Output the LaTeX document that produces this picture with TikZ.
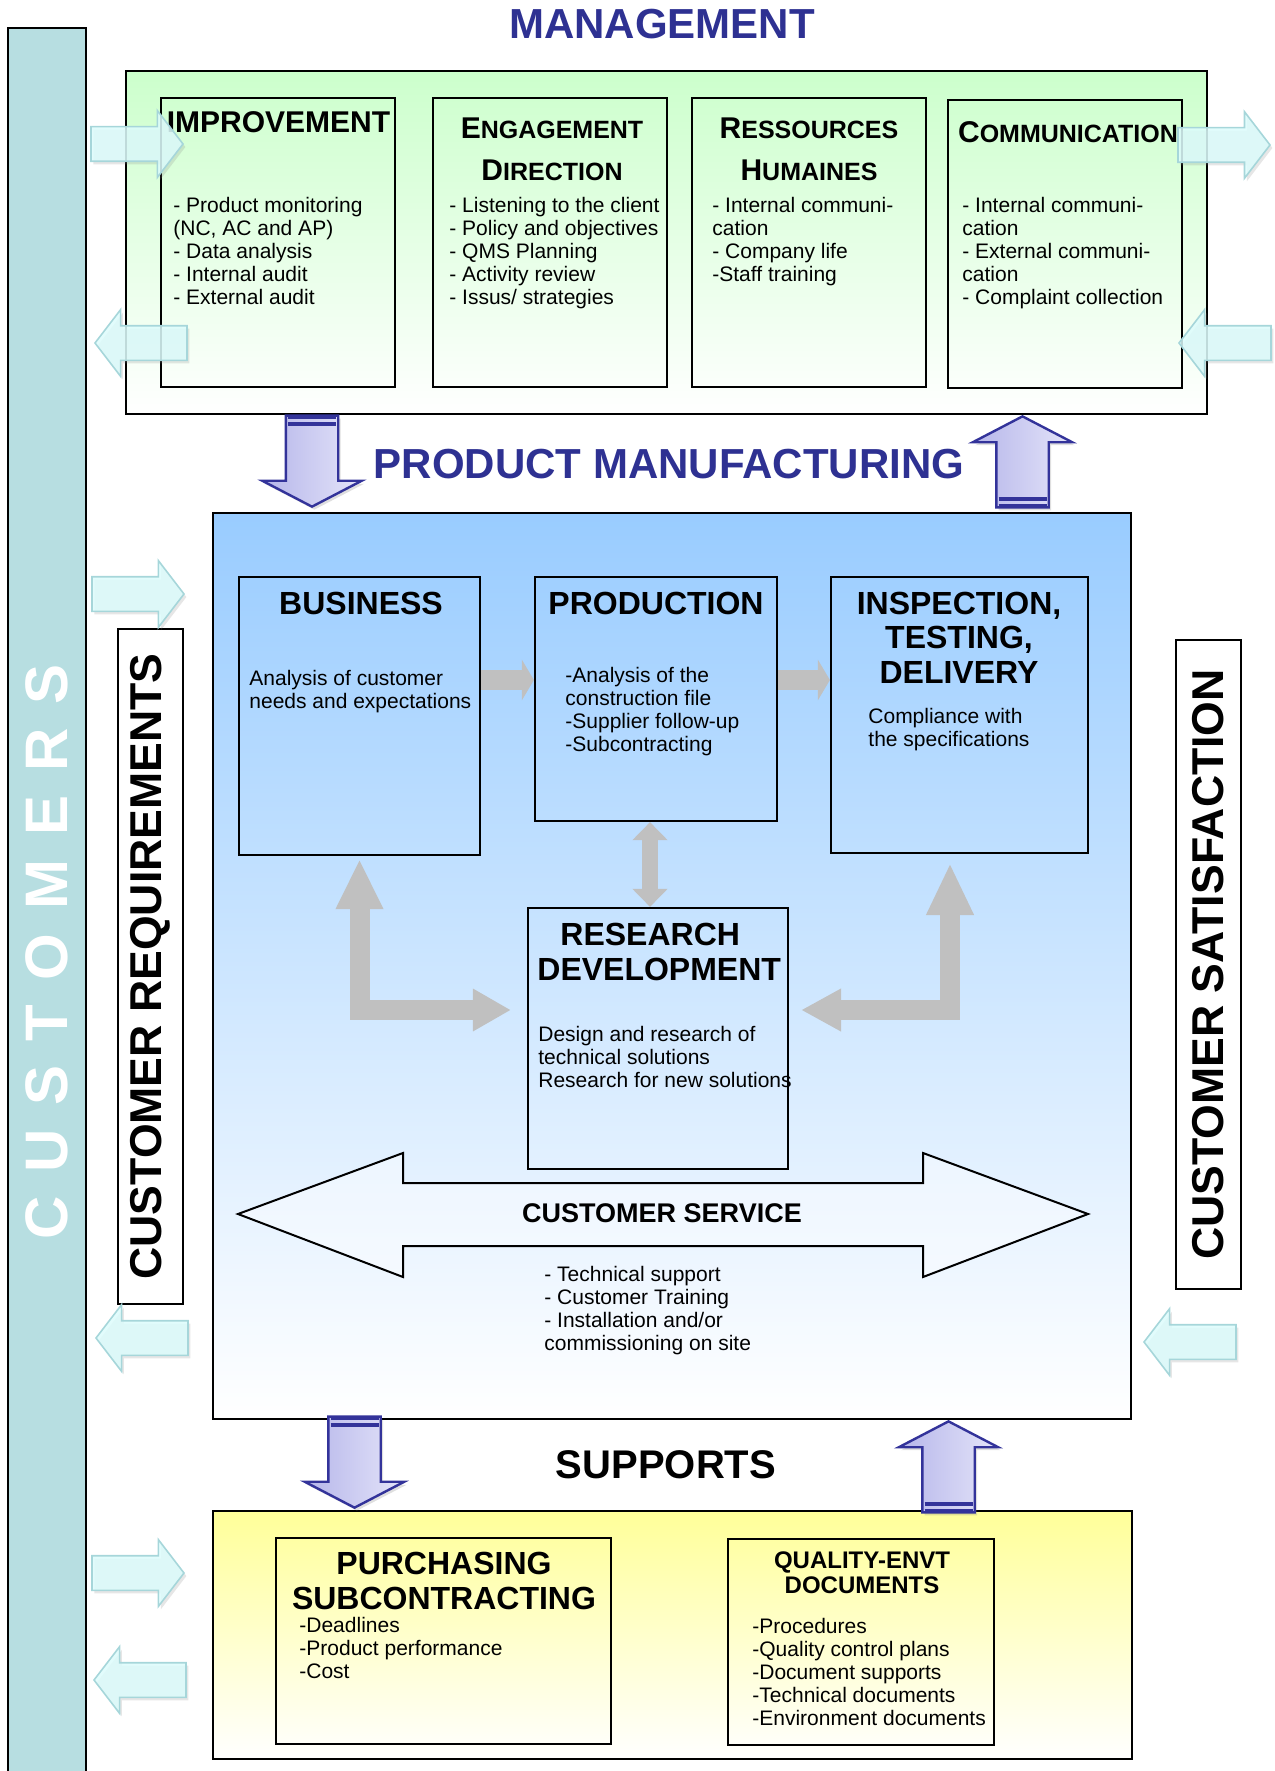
\documentclass[tikz,border=0pt]{standalone}
\usepackage{fontspec}
\setmainfont{Liberation Sans}
\usetikzlibrary{shapes.arrows,arrows.meta,shadows}

\definecolor{tituloazul}{HTML}{2E3192}
\definecolor{verdeclaro}{HTML}{CCFFCC}
\definecolor{azulclaro}{HTML}{99CCFF}
\definecolor{amarilloclaro}{HTML}{FFFF99}
\definecolor{barra}{HTML}{B7DEE1}
\definecolor{cian}{HTML}{DDFCFC}
\definecolor{cianborde}{HTML}{A6D6DA}
\definecolor{lila}{HTML}{B6B6EA}
\definecolor{lilaclaro}{HTML}{E4E4F9}
\definecolor{lilaborde}{HTML}{33339A}
\definecolor{gris}{HTML}{C0C0C0}

% versalitas falsas
\newcommand{\pc}[2]{{\fontsize{15}{21}\selectfont #1}{\fontsize{12.5}{21}\selectfont #2}}

\tikzset{
  caja/.style={draw, line width=1.1pt, inner sep=0pt},
  titulo/.style={font=\fontsize{16}{17.25}\selectfont\bfseries, align=center, inner sep=0pt},
  lista/.style={font=\fontsize{10.5}{11.5}\selectfont, align=left, anchor=north west, inner sep=0pt},
  flechacian/.style={single arrow, anchor=tip, fill=cian, draw=cianborde, line width=0.8pt, fill opacity=0.85,
    inner sep=8.25pt, single arrow head extend=8pt, single arrow tip angle=105, minimum height=46pt,
    drop shadow={shadow xshift=1.2pt, shadow yshift=-1.5pt, opacity=0.2}},
  flechaazul/.style={single arrow, anchor=tip, draw=lilaborde, line width=1.2pt, left color=lila, right color=lilaclaro,
    inner sep=12.5pt, single arrow head extend=11.75pt, single arrow tip angle=125, minimum height=45.5pt,
    drop shadow={shadow xshift=1.2pt, shadow yshift=-1.5pt, opacity=0.25}},
  raya/.style={lilaborde, line width=2pt}
}

\begin{document}
\begin{tikzpicture}[x=0.5pt, y=-0.5pt]
\useasboundingbox (0,0) rectangle (1274,1771);

% Barra de clientes
\node[caja, fill=barra, minimum width=39pt, minimum height=876pt] (barra) at (47,904) {};
\node[rotate=90, text=white, inner sep=0pt, font=\fontsize{30}{30}\selectfont\bfseries] (clientes) at (47,952) {\spaceskip=12pt C U S T O M E R S};

% Gestion
\node[caja, top color=verdeclaro, bottom color=white, minimum width=540.5pt, minimum height=171.5pt] (gest) at (666.5,242.5) {};
\node[font=\fontsize{21}{21}\selectfont\bfseries, text=tituloazul] (gest-t) at (662,24) {MANAGEMENT};

\node[caja, minimum width=117pt, minimum height=144.5pt] (imp) at (278,242.5) {};
\node[caja, minimum width=117pt, minimum height=144.5pt] (eng) at (550,242.5) {};
\node[caja, minimum width=117pt, minimum height=144.5pt] (rh) at (809,242.5) {};
\node[caja, minimum width=117pt, minimum height=144pt] (com) at (1065,244) {};

\node[titulo, font=\fontsize{15}{21}\selectfont\bfseries] (imp-t) at (278.5,122) {IMPROVEMENT};
\node[titulo, font=\fontsize{15}{21}\selectfont\bfseries] (eng-t) at (552,149) {\pc{E}{NGAGEMENT}\\\pc{D}{IRECTION}};
\node[titulo, font=\fontsize{15}{21}\selectfont\bfseries] (rh-t) at (809,149) {\pc{R}{ESSOURCES}\\\pc{H}{UMAINES}};
\node[titulo, font=\fontsize{15}{21}\selectfont\bfseries] (com-t) at (1068,132) {\pc{C}{OMMUNICATION}};

\node[lista] (imp-l) at (173,197) {- Product monitoring\\(NC, AC and AP)\\- Data analysis\\- Internal audit\\- External audit};
\node[lista] (eng-l) at (449,197) {- Listening to the client\\- Policy and objectives\\- QMS Planning\\- Activity review\\- Issus/ strategies};
\node[lista] (rh-l) at (712,197) {- Internal communi-\\cation\\- Company life\\-Staff training};
\node[lista] (com-l) at (962,197) {- Internal communi-\\cation\\- External communi-\\cation\\- Complaint collection};

% Fabricacion
\node[caja, top color=azulclaro, bottom color=white, minimum width=459pt, minimum height=453pt] (fab) at (672,966) {};
\node[font=\fontsize{21}{21}\selectfont\bfseries, text=tituloazul] (fab-t) at (669,464) {PRODUCT MANUFACTURING};

\node[caja, minimum width=120.5pt, minimum height=139pt] (biz) at (359.5,716) {};
\node[caja, minimum width=121pt, minimum height=122pt] (prod) at (656,699) {};
\node[caja, minimum width=128.5pt, minimum height=138pt] (insp) at (959.5,715) {};
\node[caja, minimum width=130pt, minimum height=130.5pt] (rd) at (658,1038.5) {};

\node[titulo] (biz-t) at (361,603) {BUSINESS};
\node[titulo] (prod-t) at (656,603) {PRODUCTION};
\node[titulo] (insp-t) at (959,637.5) {INSPECTION,\\TESTING,\\DELIVERY};
\node[titulo, align=left, anchor=west] (rd-t) at (537,952) {\hspace*{11.5pt}RESEARCH\\DEVELOPMENT};

\node[lista] (biz-l) at (249,670) {Analysis of customer\\needs and expectations};
\node[lista] (prod-l) at (565,667) {-Analysis of the\\construction file\\-Supplier follow-up\\-Subcontracting};
\node[lista] (insp-l) at (868,708) {Compliance with\\the specifications};
\node[lista] (rd-l) at (538,1026) {Design and research of\\technical solutions\\Research for new solutions};

% Servicio al cliente
\draw[line width=1pt, fill=white, fill opacity=0.4] (238,1214) -- (403,1153) -- (403,1183) -- (923,1183) -- (923,1153) -- (1088,1214)
  -- (923,1277) -- (923,1246) -- (403,1246) -- (403,1277) -- cycle;
\node[font=\fontsize{13.5}{13.5}\selectfont\bfseries] (sc-t) at (662,1213) {CUSTOMER SERVICE};
\node[lista] (sc-l) at (544,1266) {- Technical support\\- Customer Training\\- Installation and/or\\commissioning on site};

% Flechas grises
\draw[gris, line width=10pt, -{Triangle[length=6pt,width=20pt]}] (biz.east |- 0,680) -- (prod.west |- 0,680);
\draw[gris, line width=10pt, -{Triangle[length=6pt,width=20pt]}] (prod.east |- 0,680) -- (insp.west |- 0,680);
\draw[gris, line width=8pt, {Triangle[length=9pt,width=17pt]}-{Triangle[length=9pt,width=17pt]}] (prod.south -| 650,0) -- (rd.north -| 650,0);
\draw[gris, line width=10pt, line join=miter, {Triangle[length=25pt,width=22pt]}-{Triangle[length=19pt,width=20pt]},
  shorten <=1.5pt, shorten >=8pt] (biz.south) |- (rd.west |- 0,1010);
\draw[gris, line width=10pt, line join=miter, {Triangle[length=26pt,width=22pt]}-{Triangle[length=20pt,width=20pt]},
  shorten <=4.5pt, shorten >=6pt] (insp.south -| 950,0) |- (rd.east |- 0,1010);

% Requisitos y satisfaccion
\node[caja, fill=white, rotate=90, minimum width=337.5pt, minimum height=32.5pt, font=\fontsize{22.3}{22.3}\selectfont\bfseries] (creq) at (150.5,966.5) {CUSTOMER REQUIREMENTS};
\node[caja, fill=white, rotate=90, minimum width=324.5pt, minimum height=32.5pt, font=\fontsize{22.3}{22.3}\selectfont\bfseries] (csat) at (1208.5,964.5) {CUSTOMER SATISFACTION};

% Soportes
\node[caja, top color=amarilloclaro, bottom color=white, minimum width=459.5pt, minimum height=124pt] (sop) at (672.5,1635) {};
\node[font=\fontsize{20}{20}\selectfont\bfseries] (sop-t) at (666,1465) {SUPPORTS};

\node[caja, minimum width=167.5pt, minimum height=103pt] (pur) at (443.5,1641) {};
\node[caja, minimum width=133pt, minimum height=103pt] (qua) at (861,1642) {};

\node[titulo] (pur-t) at (444,1581) {PURCHASING\\SUBCONTRACTING};
\node[titulo, font=\fontsize{12}{12.5}\selectfont\bfseries] (qua-t) at (862,1572.5) {QUALITY-ENVT\\DOCUMENTS};
\node[lista] (pur-l) at (299,1617) {-Deadlines\\-Product performance\\-Cost};
\node[lista] (qua-l) at (752,1618) {-Procedures\\-Quality control plans\\-Document supports\\-Technical documents\\-Environment documents};

% Flechas cian
\node[flechacian] (c1) at (184,144) {};
\node[flechacian, shape border rotate=180] (c2) at (94,343) {};
\node[flechacian] (c3) at (1271,145) {};
\node[flechacian, shape border rotate=180] (c4) at (1178,343) {};
\node[flechacian] (c5) at (185,594) {};
\node[flechacian, shape border rotate=180] (c6) at (95,1338) {};
\node[flechacian, shape border rotate=180] (c7) at (1143,1342) {};
\node[flechacian] (c8) at (185,1573) {};
\node[flechacian, shape border rotate=180] (c9) at (93,1680) {};

% Flechas azules
\node[flechaazul, shape border rotate=270] (b1) at (312,508) {};
\node[flechaazul, shape border rotate=90] (b2) at (1022.5,415) {};
\node[flechaazul, shape border rotate=270] (b3) at (354.5,1509) {};
\node[flechaazul, shape border rotate=90] (b4) at (948.5,1420) {};

\draw[raya] ([shift={(-24,3)}]b1.tail) -- ([shift={(24,3)}]b1.tail);
\draw[raya] ([shift={(-24,10)}]b1.tail) -- ([shift={(24,10)}]b1.tail);
\draw[raya] ([shift={(-24,-3)}]b2.tail) -- ([shift={(24,-3)}]b2.tail);
\draw[raya] ([shift={(-24,-10)}]b2.tail) -- ([shift={(24,-10)}]b2.tail);
\draw[raya] ([shift={(-24,3)}]b3.tail) -- ([shift={(24,3)}]b3.tail);
\draw[raya] ([shift={(-24,10)}]b3.tail) -- ([shift={(24,10)}]b3.tail);
\draw[raya] ([shift={(-24,-3)}]b4.tail) -- ([shift={(24,-3)}]b4.tail);
\draw[raya] ([shift={(-24,-10)}]b4.tail) -- ([shift={(24,-10)}]b4.tail);

\end{tikzpicture}
\end{document}
